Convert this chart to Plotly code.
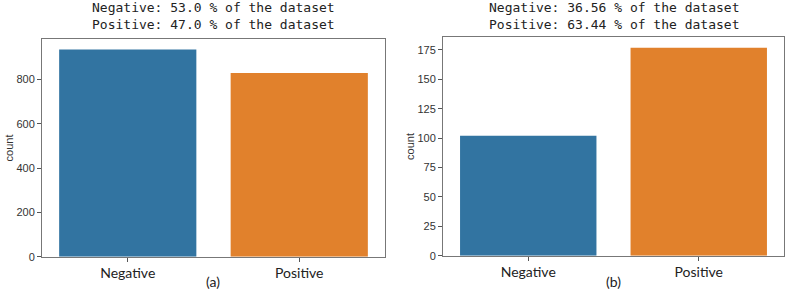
import plotly.graph_objects as go
from plotly.subplots import make_subplots

categories = ["Negative", "Positive"]
counts_a = [935, 829]
counts_b = [102, 177]
titles_a = ["Negative: 53.0 % of the dataset", "Positive: 47.0 % of the dataset"]
titles_b = ["Negative: 36.56 % of the dataset", "Positive: 63.44 % of the dataset"]
colors = ["#3274a1", "#e1812c"]

W, H = 787, 295
fig = make_subplots(rows=1, cols=2)

fig.add_trace(go.Bar(x=categories, y=counts_a, marker_color=colors, width=0.8,
                     marker_line_width=0, showlegend=False), row=1, col=1)
fig.add_trace(go.Bar(x=categories, y=counts_b, marker_color=colors, width=0.8,
                     marker_line_width=0, showlegend=False), row=1, col=2)

def px(x):
    return x / W

def py(y):
    return 1 - y / H

axcommon = dict(showline=True, mirror=True, linecolor="#777777", linewidth=1,
                ticks="outside", ticklen=4, tickcolor="#555555", showgrid=False,
                zeroline=False)

fig.update_xaxes(**axcommon, range=[-0.5, 1.5],
                 tickfont=dict(family="Lato, Liberation Sans, sans-serif", size=14, color="#222222"))
fig.update_yaxes(**axcommon,
                 tickfont=dict(family="Liberation Sans, sans-serif", size=11, color="#333333"))

fig.update_layout(
    width=W, height=H,
    margin=dict(l=0, r=0, t=0, b=0),
    plot_bgcolor="white", paper_bgcolor="white",
    bargap=0.2,
    xaxis=dict(domain=[px(42), px(385)]),
    xaxis2=dict(domain=[px(443), px(784)]),
    yaxis=dict(domain=[py(262), py(40)], range=[0, max(counts_a) * 1.05],
               tickvals=[0, 200, 400, 600, 800],
               title=dict(text="count", standoff=0,
                          font=dict(family="Liberation Sans, sans-serif", size=11, color="#333333"))),
    yaxis2=dict(domain=[py(261), py(38)], range=[0, max(counts_b) * 1.05],
                tickvals=[0, 25, 50, 75, 100, 125, 150, 175],
                title=dict(text="count", standoff=0,
                           font=dict(family="Liberation Sans, sans-serif", size=11, color="#333333"))),
)

mono = dict(family="DejaVu Sans Mono, monospace", size=13, color="#222222")
for cx, lines in [((42 + 385) / 2, titles_a), ((443 + 784) / 2, titles_b)]:
    for i, t in enumerate(lines):
        fig.add_annotation(x=px(cx), y=py(8 + i * 17), xref="paper", yref="paper",
                           text=t, showarrow=False, font=mono,
                           xanchor="center", yanchor="middle")

for cx, lab in [((42 + 385) / 2, "(a)"), ((443 + 784) / 2, "(b)")]:
    fig.add_annotation(x=px(cx), y=py(287), xref="paper", yref="paper",
                       text=lab, showarrow=False,
                       font=dict(family="Lato, Liberation Sans, sans-serif", size=14, color="#222222"),
                       xanchor="center", yanchor="middle")

fig.write_html("out.html", config={"displayModeBar": False},
               post_script="document.body.style.margin='0';document.body.style.overflow='hidden';")
